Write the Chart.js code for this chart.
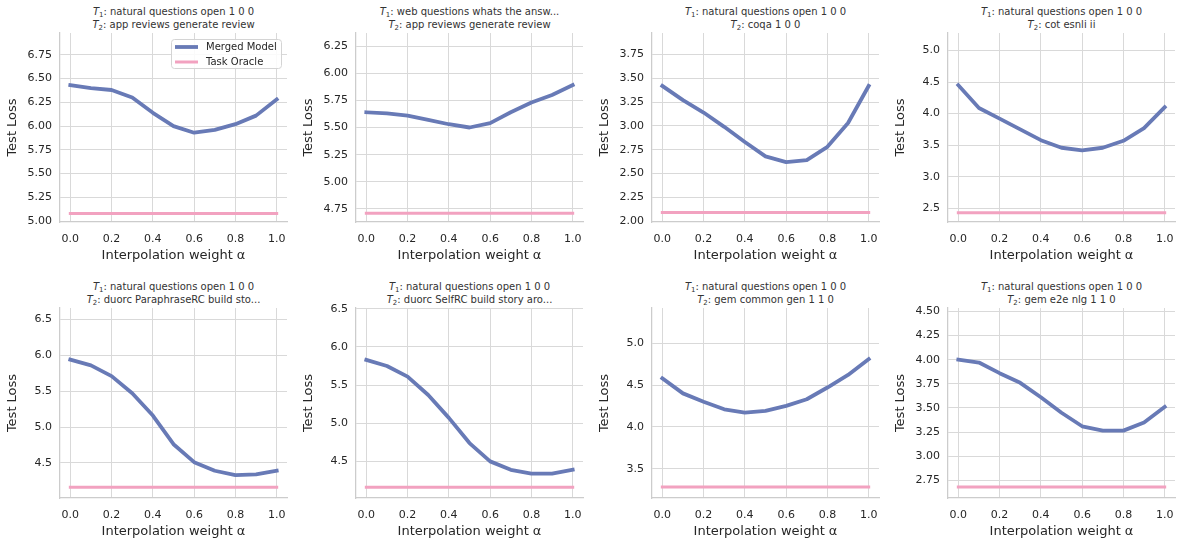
<!DOCTYPE html>
<html>
<head>
<meta charset="utf-8">
<script src="https://cdn.jsdelivr.net/npm/chart.js@4.4.1/dist/chart.umd.min.js"></script>
<style>
  html, body { margin: 0; padding: 0; background: #fff; overflow: hidden; }
  #wrap { position: relative; width: 1177px; height: 540px; font-family: "DejaVu Sans", sans-serif; color: #262626; }
  canvas { position: absolute; }
  .ttl { position: absolute; font-size: 10px; line-height: 12.5px; text-align: center; white-space: nowrap; color: #333; }
  .ttl sub { font-size: 7px; vertical-align: -2px; line-height: 0; }
</style>
</head>
<body>
<div id="wrap"></div>
<script>
// interpolation weights (x values) and x tick labels
const alphas = [0.0, 0.1, 0.2, 0.3, 0.4, 0.5, 0.6, 0.7, 0.8, 0.9, 1.0];
const xTickLabels = ["0.0", "0.2", "0.4", "0.6", "0.8", "1.0"];

// task names per panel
const task1Names = [
  "natural questions open 1 0 0", "web questions whats the answ...", "natural questions open 1 0 0", "natural questions open 1 0 0",
  "natural questions open 1 0 0", "natural questions open 1 0 0", "natural questions open 1 0 0", "natural questions open 1 0 0"
];
const task2Names = [
  "app reviews generate review", "app reviews generate review", "coqa 1 0 0", "cot esnli ii",
  "duorc ParaphraseRC build sto...", "duorc SelfRC build story aro...", "gem common gen 1 1 0", "gem e2e nlg 1 1 0"
];

// merged model test loss, one array per panel
const merged1 = [6.43, 6.40, 6.38, 6.30, 6.14, 6.00, 5.93, 5.96, 6.02, 6.11, 6.28];
const merged2 = [5.64, 5.63, 5.61, 5.57, 5.53, 5.50, 5.54, 5.64, 5.73, 5.80, 5.89];
const merged3 = [3.42, 3.27, 3.14, 2.99, 2.83, 2.68, 2.62, 2.64, 2.78, 3.03, 3.42];
const merged4 = [4.45, 4.09, 3.92, 3.75, 3.58, 3.46, 3.42, 3.46, 3.57, 3.77, 4.10];
const merged5 = [5.94, 5.86, 5.71, 5.47, 5.16, 4.76, 4.51, 4.39, 4.33, 4.34, 4.39];
const merged6 = [5.83, 5.75, 5.61, 5.37, 5.07, 4.74, 4.50, 4.39, 4.34, 4.34, 4.39];
const merged7 = [4.58, 4.40, 4.30, 4.21, 4.17, 4.19, 4.25, 4.33, 4.47, 4.62, 4.81];
const merged8 = [4.00, 3.97, 3.86, 3.76, 3.61, 3.45, 3.31, 3.265, 3.265, 3.35, 3.51];

// task oracle test loss per panel
const oracleLoss = [5.08, 4.71, 2.09, 2.43, 4.16, 4.16, 3.28, 2.68];

// y ranges and tick labels per panel
const yMin = [4.99, 4.63, 1.99, 2.285, 4.01, 4.02, 3.15, 2.567];
const yMax = [6.98, 6.37, 3.976, 5.276, 6.66, 6.51, 5.42, 4.535];
const yTicks1 = ["5.00", "5.25", "5.50", "5.75", "6.00", "6.25", "6.50", "6.75"];
const yTicks2 = ["4.75", "5.00", "5.25", "5.50", "5.75", "6.00", "6.25"];
const yTicks3 = ["2.00", "2.25", "2.50", "2.75", "3.00", "3.25", "3.50", "3.75"];
const yTicks4 = ["2.5", "3.0", "3.5", "4.0", "4.5", "5.0"];
const yTicks5 = ["4.5", "5.0", "5.5", "6.0", "6.5"];
const yTicks6 = ["4.5", "5.0", "5.5", "6.0", "6.5"];
const yTicks7 = ["3.5", "4.0", "4.5", "5.0"];
const yTicks8 = ["2.75", "3.00", "3.25", "3.50", "3.75", "4.00", "4.25", "4.50"];

const mergedSeries = [merged1, merged2, merged3, merged4, merged5, merged6, merged7, merged8];
const yTickSets = [yTicks1, yTicks2, yTicks3, yTicks4, yTicks5, yTicks6, yTicks7, yTicks8];

const BLUE = "#687ab6";
const PINK = "#f2a2c0";
const TEXT = "#262626";

// layout of the 2x4 grid (plot area positions)
const colLeft = [60, 356, 652, 948];
const rowTop = [33, 308];
const rowHeight = [189, 190];
const plotW = 227;
const yW = 60, xH = 48, padTop = 8, padRight = 4;

Chart.defaults.font.family = '"DejaVu Sans", sans-serif';
Chart.defaults.color = TEXT;

// legend drawn inside the first panel (upper right)
const legendBox = {
  id: "legendBox",
  afterDatasetsDraw(chart) {
    const { ctx, chartArea: a } = chart;
    const w = 110, h = 29;
    const x = a.right - 6 - w, y = a.top + 6;
    ctx.save();
    ctx.fillStyle = "rgba(255,255,255,0.85)";
    ctx.strokeStyle = "#d4d4d4";
    ctx.lineWidth = 1;
    ctx.beginPath();
    ctx.roundRect(x + 0.5, y + 0.5, w, h, 3);
    ctx.fill();
    ctx.stroke();
    ctx.font = '10px "DejaVu Sans"';
    ctx.textBaseline = "middle";
    chart.data.datasets.forEach((ds, k) => {
      const cy = y + 8 + k * 15;
      ctx.strokeStyle = ds.borderColor;
      ctx.lineWidth = ds.borderWidth;
      ctx.beginPath();
      ctx.moveTo(x + 4, cy);
      ctx.lineTo(x + 27, cy);
      ctx.stroke();
      ctx.fillStyle = TEXT;
      ctx.fillText(ds.label, x + 35, cy);
    });
    ctx.restore();
  }
};

// keep the plot area fixed: no extra padding from tick label overflow
const noPad = (s) => { s.paddingTop = 0; s.paddingBottom = 0; s.paddingLeft = 0; s.paddingRight = 0; };

const wrap = document.getElementById("wrap");

mergedSeries.forEach((merged, i) => {
  const col = i % 4, row = Math.floor(i / 4);
  const L = colLeft[col], T = rowTop[row], H = rowHeight[row];
  const labels = yTickSets[i];

  // title (html so T1/T2 can be italic with subscript)
  const ttl = document.createElement("div");
  ttl.className = "ttl";
  ttl.style.left = L + "px";
  ttl.style.width = plotW + "px";
  ttl.style.top = (T - 27) + "px";
  ttl.innerHTML = "<i>T</i><sub>1</sub>: " + task1Names[i] + "<br><i>T</i><sub>2</sub>: " + task2Names[i];
  wrap.appendChild(ttl);

  const cv = document.createElement("canvas");
  cv.width = yW + plotW + padRight;
  cv.height = padTop + H + xH;
  cv.style.left = (L - yW) + "px";
  cv.style.top = (T - padTop) + "px";
  cv.style.width = cv.width + "px";
  cv.style.height = cv.height + "px";
  wrap.appendChild(cv);

  new Chart(cv, {
    type: "line",
    data: {
      datasets: [
        {
          label: "Merged Model",
          data: alphas.map((a, k) => ({ x: a, y: merged[k] })),
          borderColor: BLUE,
          borderWidth: 3.8,
          pointRadius: 0,
          tension: 0,
          borderJoinStyle: "round",
          borderCapStyle: "square",
          fill: false
        },
        {
          label: "Task Oracle",
          data: [{ x: alphas[0], y: oracleLoss[i] }, { x: alphas[alphas.length - 1], y: oracleLoss[i] }],
          borderColor: PINK,
          borderWidth: 3,
          pointRadius: 0,
          borderCapStyle: "square",
          fill: false
        }
      ]
    },
    options: {
      responsive: false,
      animation: false,
      devicePixelRatio: 1,
      layout: { padding: { left: 0, top: padTop, right: padRight, bottom: 0 } },
      plugins: { legend: { display: false }, tooltip: { enabled: false } },
      scales: {
        x: {
          type: "linear",
          min: -0.05,
          max: 1.05,
          afterBuildTicks: (s) => { s.ticks = xTickLabels.map(v => ({ value: parseFloat(v) })); },
          afterFit: (s) => { s.height = xH; noPad(s); },
          ticks: {
            callback: (v) => xTickLabels.find(l => Math.abs(parseFloat(l) - v) < 1e-9),
            font: { size: 11 },
            color: TEXT,
            padding: 11,
            maxRotation: 0,
            autoSkip: false
          },
          grid: { color: "#d9d9d9", lineWidth: 1, drawTicks: false },
          border: { color: "#cccccc", width: 1.25 },
          title: { display: true, text: "Interpolation weight α", font: { size: 13 }, color: TEXT, padding: { top: 0, bottom: 7 } }
        },
        y: {
          min: yMin[i],
          max: yMax[i],
          afterBuildTicks: (s) => { s.ticks = labels.map(v => ({ value: parseFloat(v) })); },
          afterFit: (s) => { s.width = yW; noPad(s); },
          ticks: {
            callback: (v) => labels.find(l => Math.abs(parseFloat(l) - v) < 1e-9),
            font: { size: 11 },
            color: TEXT,
            padding: 8,
            autoSkip: false
          },
          grid: { color: "#d9d9d9", lineWidth: 1, drawTicks: false },
          border: { color: "#cccccc", width: 1.25 },
          title: { display: true, text: "Test Loss", font: { size: 13 }, color: TEXT, padding: { top: 5, bottom: 0 } }
        }
      }
    },
    plugins: i === 0 ? [legendBox] : []
  });
});
</script>
</body>
</html>
